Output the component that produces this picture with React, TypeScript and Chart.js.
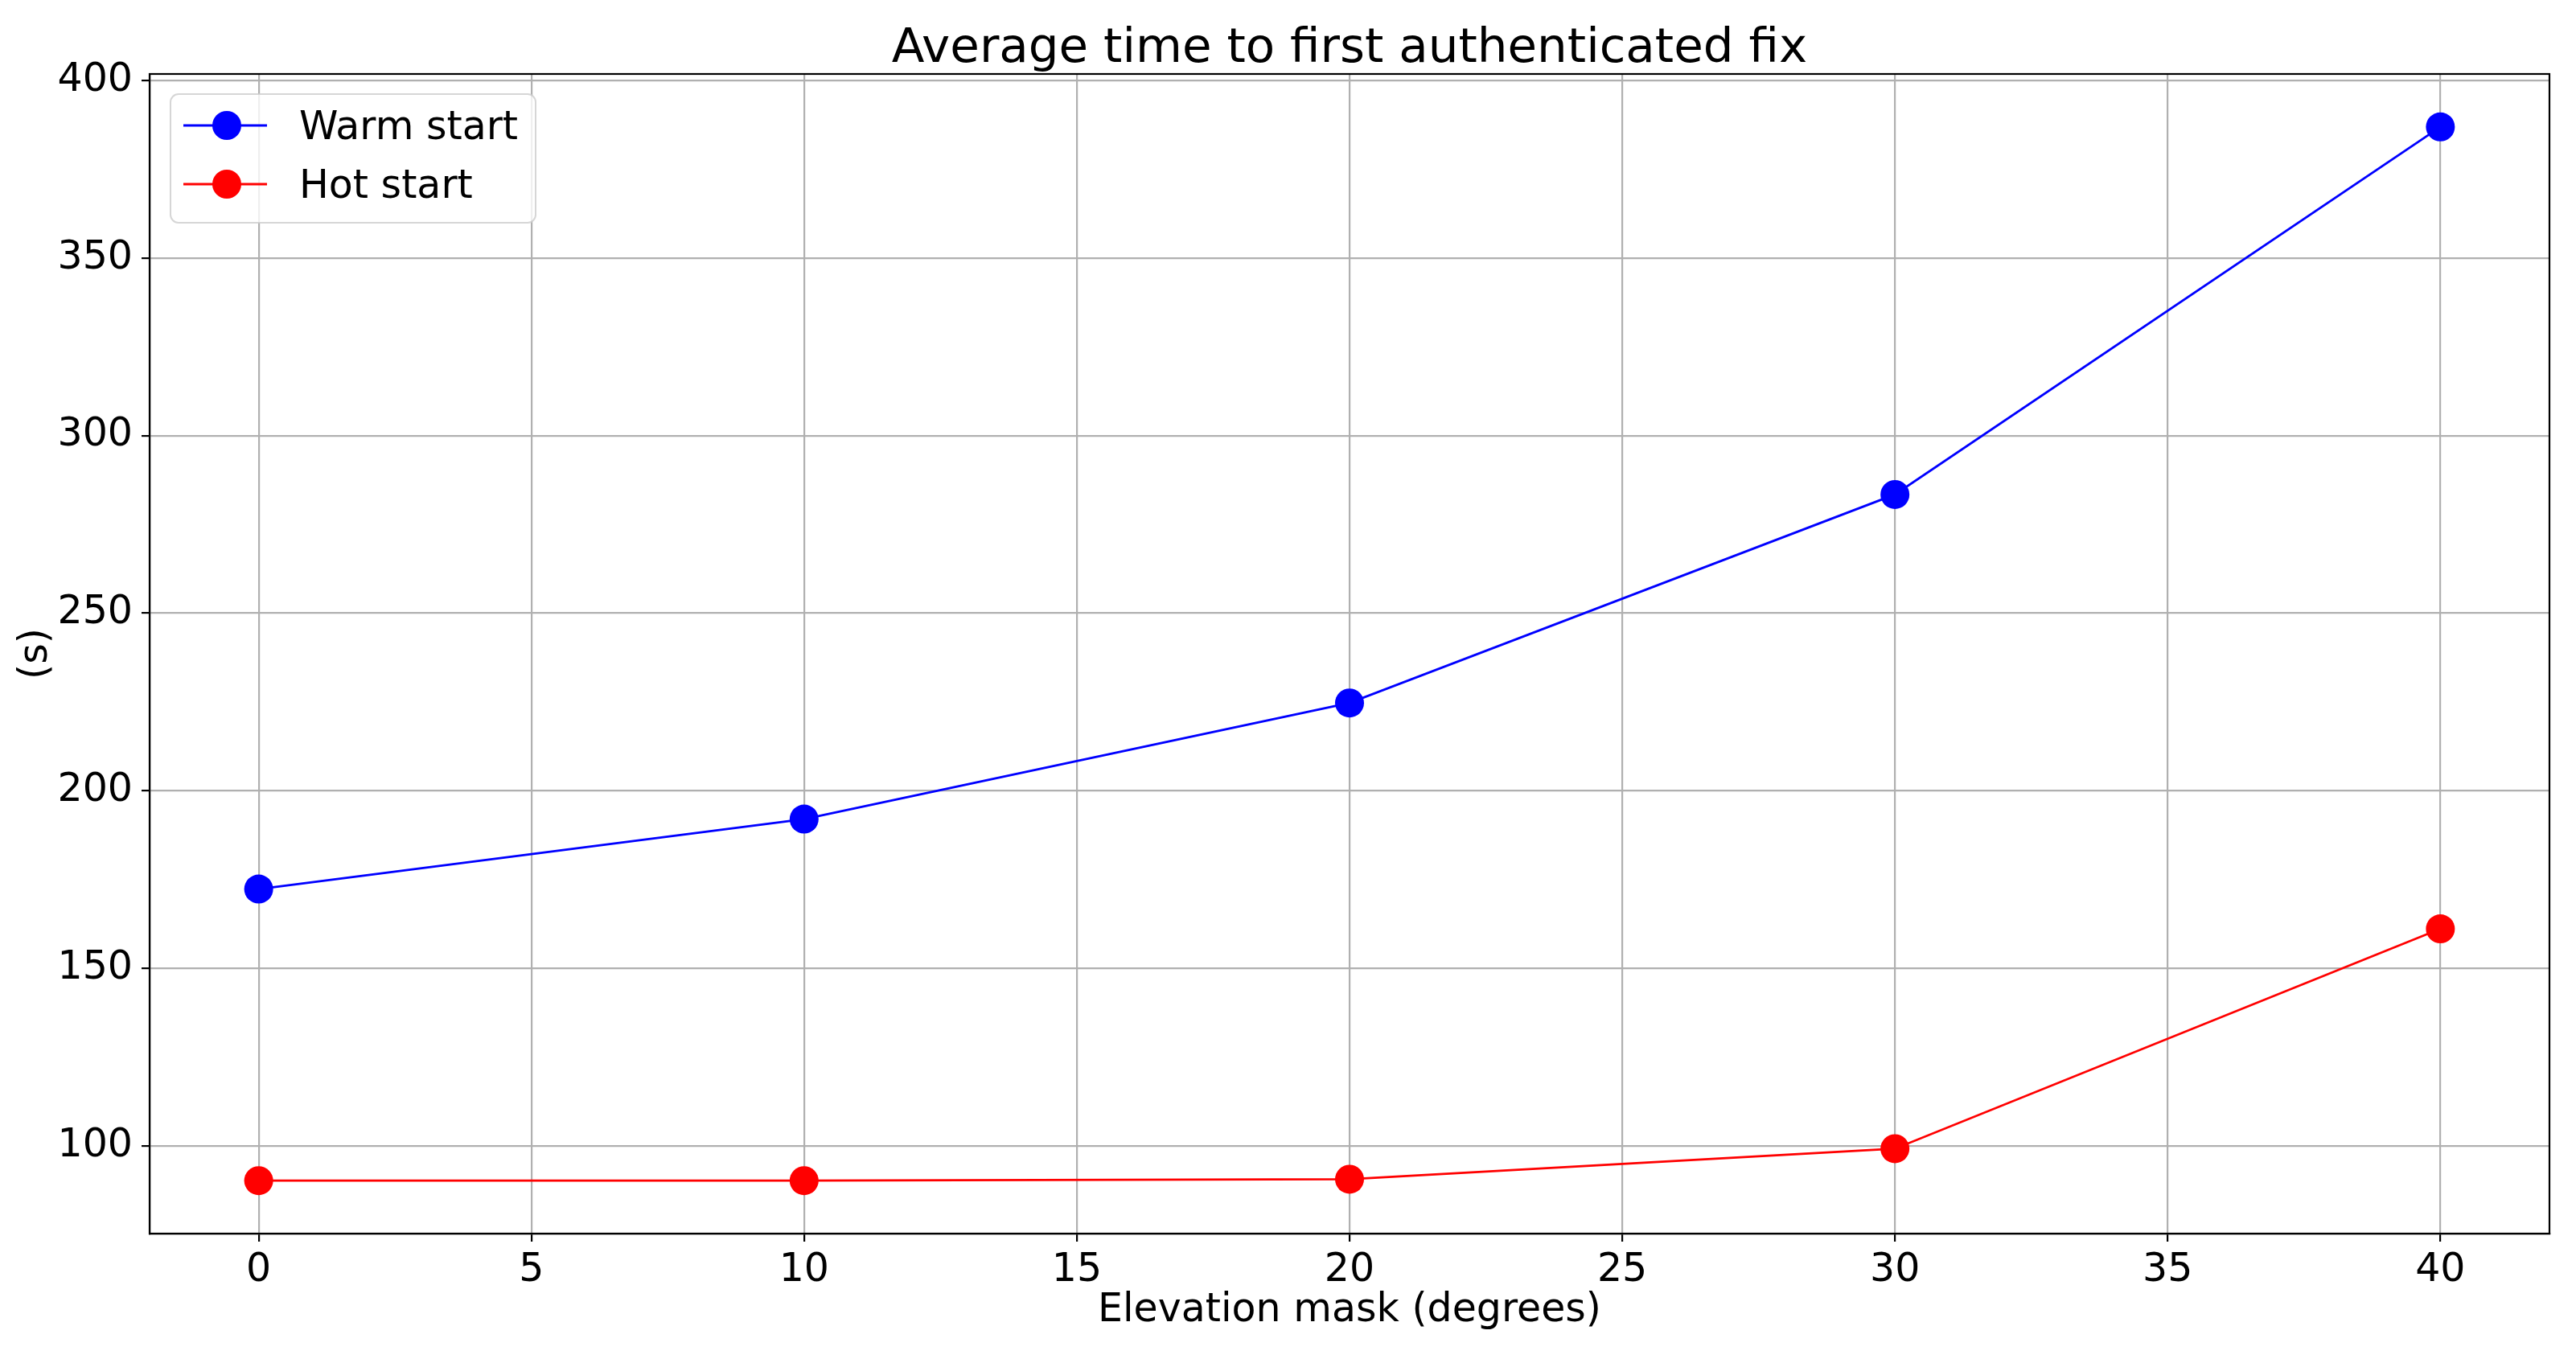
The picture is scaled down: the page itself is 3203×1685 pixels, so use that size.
import React, { useEffect, useRef } from "react";
import { Chart, registerables } from "chart.js";

Chart.register(...registerables);

const xValues = [0, 10, 20, 30, 40];
const warmStart = [172.3, 192.0, 224.7, 283.4, 386.9];
const hotStart = [90.2, 90.2, 90.6, 99.2, 161.1];
const xTickValues = [0, 5, 10, 15, 20, 25, 30, 35, 40];
const yTickValues = [100, 150, 200, 250, 300, 350, 400];
const seriesLabels = ["Warm start", "Hot start"];
const seriesColors = ["#0000ff", "#ff0000"];
const titleText = "Average time to first authenticated fix";
const xLabelText = "Elevation mask (degrees)";
const yLabelText = "(s)";

const FONT = "'DejaVu Sans', sans-serif";
const W = 3203;
const H = 1685;
const TICK_SIZE = 49;
const LABEL_SIZE = 49;
const TITLE_SIZE = 59.5;

const decorPlugin = {
  id: "decor",
  afterDatasetsDraw(chart: any) {
    const ctx = chart.ctx;
    const a = chart.chartArea;
    ctx.save();
    // spines
    ctx.strokeStyle = "#000";
    ctx.lineWidth = 2.2;
    ctx.strokeRect(a.left, a.top, a.right - a.left, a.bottom - a.top);

    // legend
    const lx = 212, ly = 117, lw = 454, lh = 160;
    ctx.beginPath();
    (ctx as any).roundRect(lx, ly, lw, lh, 10);
    ctx.fillStyle = "rgba(255,255,255,0.8)";
    ctx.fill();
    ctx.strokeStyle = "rgba(204,204,204,0.8)";
    ctx.lineWidth = 2;
    ctx.stroke();
    const rowsY = [156, 229];
    chart.data.datasets.forEach((ds: any, i: number) => {
      const y = rowsY[i];
      ctx.strokeStyle = ds.borderColor;
      ctx.lineWidth = 2.8;
      ctx.beginPath();
      ctx.moveTo(228, y);
      ctx.lineTo(332, y);
      ctx.stroke();
      ctx.fillStyle = ds.backgroundColor;
      ctx.beginPath();
      ctx.arc(282, y, 18, 0, Math.PI * 2);
      ctx.fill();
      ctx.fillStyle = "#000";
      ctx.font = `${TICK_SIZE}px ${FONT}`;
      ctx.textAlign = "left";
      ctx.textBaseline = "alphabetic";
      ctx.fillText(ds.label, 372, y + 17);
    });

    // title
    ctx.fillStyle = "#000";
    ctx.font = `${TITLE_SIZE}px ${FONT}`;
    ctx.textAlign = "center";
    ctx.textBaseline = "alphabetic";
    const cx = (a.left + a.right) / 2;
    ctx.fillText(titleText, cx, 77);

    // x label
    ctx.font = `${LABEL_SIZE}px ${FONT}`;
    ctx.fillText(xLabelText, cx, 1643);

    // y label
    ctx.save();
    ctx.translate(58, (a.top + a.bottom) / 2);
    ctx.rotate(-Math.PI / 2);
    ctx.textAlign = "center";
    ctx.textBaseline = "alphabetic";
    ctx.fillText(yLabelText, 0, 0);
    ctx.restore();

    ctx.restore();
  },
};

export default function App() {
  const ref = useRef<HTMLCanvasElement | null>(null);
  useEffect(() => {
    document.body.style.margin = "0";
    const canvas = ref.current!;
    const chart = new Chart(canvas, {
      type: "line",
      data: {
        datasets: [warmStart, hotStart].map((vals, i) => ({
          label: seriesLabels[i],
          data: xValues.map((x, j) => ({ x, y: vals[j] })),
          borderColor: seriesColors[i],
          backgroundColor: seriesColors[i],
          pointBackgroundColor: seriesColors[i],
          pointBorderWidth: 0,
          pointRadius: 18,
          borderWidth: 2.8,
          tension: 0,
          fill: false,
        })),
      },
      options: {
        responsive: false,
        animation: false,
        devicePixelRatio: 1,
        layout: { padding: { left: 0, top: 92, right: 33, bottom: 0 } },
        plugins: {
          legend: { display: false },
          title: { display: false },
          tooltip: { enabled: false },
        },
        scales: {
          x: {
            type: "linear",
            min: -2,
            max: 42,
            afterFit: (s: any) => {
              s.height = H - 1534;
            },
            afterBuildTicks: (s: any) => {
              s.ticks = xTickValues.map((v) => ({ value: v }));
            },
            ticks: {
              font: { family: FONT, size: TICK_SIZE },
              color: "#000",
              padding: 7,
              maxRotation: 0,
              autoSkip: false,
            },
            grid: {
              color: "#b0b0b0",
              lineWidth: 2.2,
              tickColor: "#000",
              tickLength: 10,
              tickWidth: 2.2,
            },
            border: { display: true, color: "#000", width: 2.2 },
          },
          y: {
            type: "linear",
            min: 75.3,
            max: 401.8,
            afterFit: (s: any) => {
              s.width = 186;
            },
            afterBuildTicks: (s: any) => {
              s.ticks = yTickValues.map((v) => ({ value: v }));
            },
            ticks: {
              font: { family: FONT, size: TICK_SIZE },
              color: "#000",
              padding: 11,
              autoSkip: false,
            },
            grid: {
              color: "#b0b0b0",
              lineWidth: 2.2,
              tickColor: "#000",
              tickLength: 10,
              tickWidth: 2.2,
            },
            border: { display: true, color: "#000", width: 2.2 },
          },
        },
      },
      plugins: [decorPlugin],
    } as any);
    return () => chart.destroy();
  }, []);
  return (
    <canvas
      ref={ref}
      width={W}
      height={H}
      style={{ display: "block", width: W, height: H }}
    />
  );
}
